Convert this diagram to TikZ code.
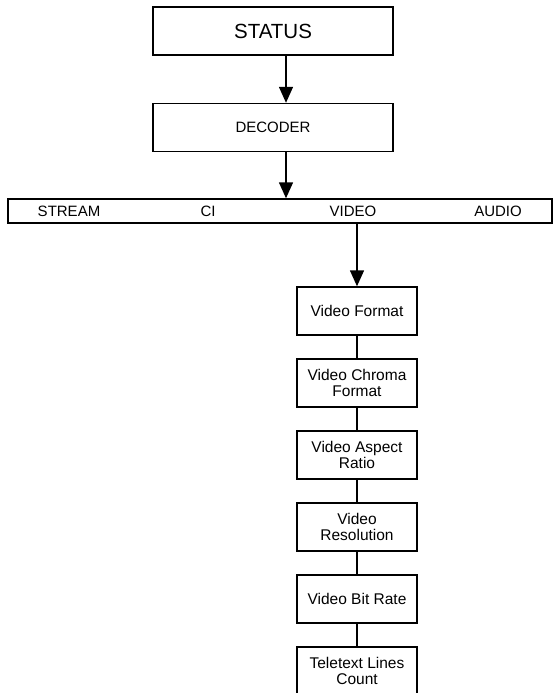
\documentclass[tikz,border=0pt]{standalone}
\usepackage{fontspec}
\setmainfont{Liberation Sans}
\usetikzlibrary{positioning,arrows.meta}

\tikzset{
  block/.style={draw,line width=1.4pt,minimum width=240pt,minimum height=48pt,inner sep=0pt},
  item/.style={draw,line width=1.4pt,minimum width=120pt,minimum height=48pt,inner sep=0pt,
    align=center,font=\fontsize{15.5}{16}\selectfont},
  tab/.style={font=\fontsize{15}{16}\selectfont,inner sep=0pt},
  link/.style={line width=1.4pt},
  flow/.style={line width=1.4pt,-{Triangle[width=14pt,length=16pt]}}
}

\begin{document}
\begin{tikzpicture}[x=1pt,y=1pt]
    \useasboundingbox (0,0) rectangle (554,-693);
    \node[block,font=\fontsize{20.5}{22}\selectfont] (status) at (273,-31) {STATUS};
    \node[block,font=\fontsize{15}{16}\selectfont] (decoder) at (273,-127.5) {DECODER};
    %% Menu bar
    \node[draw,line width=1.4pt,minimum width=544pt,minimum height=24pt,inner sep=0pt] (bar) at (280,-211) {};
    \node[tab] (stream) at (69,-211) {STREAM};
    \node[tab] (ci) at (208,-211) {CI};
    \node[tab] (video) at (353,-211) {VIDEO};
    \node[tab] (audio) at (498,-211) {AUDIO};
    %% Top arrows
    \coordinate (s1) at ([xshift=13pt]status.south);
    \coordinate (d1) at ([xshift=13pt]decoder.south);
    \draw[flow] (s1) -- (s1 |- decoder.north);
    \draw[flow] (d1) -- (d1 |- bar.north);
    %% Video entries
    \node[item] (vf) at (357,-311) {Video Format};
    \node[item,below=22.6pt of vf] (vcf) {Video Chroma\\Format};
    \node[item,below=22.6pt of vcf] (var) {Video Aspect\\Ratio};
    \node[item,below=22.6pt of var] (vres) {Video\\Resolution};
    \node[item,below=22.6pt of vres] (vbr) {Video Bit Rate};
    \node[item,below=22.6pt of vbr] (tlc) {Teletext Lines\\Count};
    \draw[flow] (bar.south -| vf.north) -- (vf.north);
    \draw[link] (vf) -- (vcf);
    \draw[link] (vcf) -- (var);
    \draw[link] (var) -- (vres);
    \draw[link] (vres) -- (vbr);
    \draw[link] (vbr) -- (tlc);
\end{tikzpicture}
\end{document}
